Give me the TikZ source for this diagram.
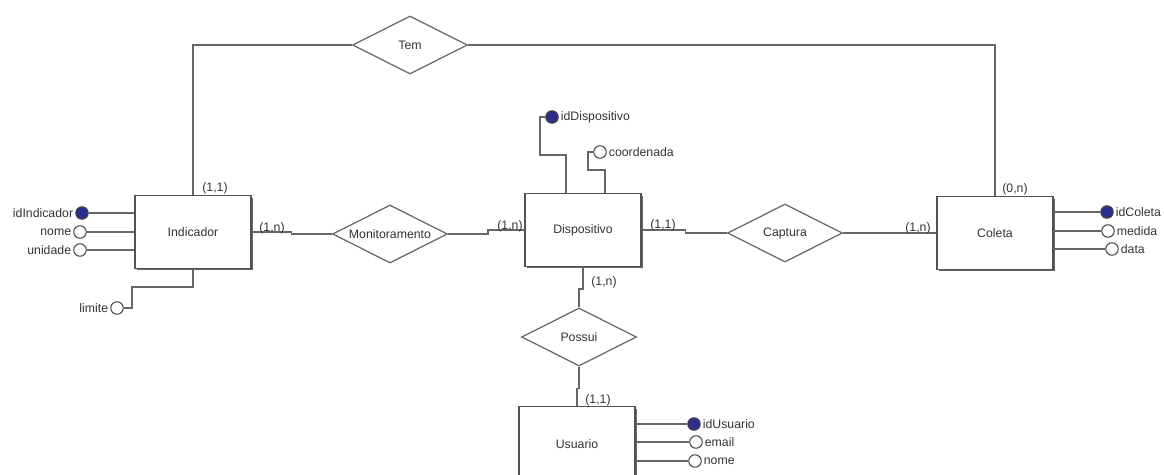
\documentclass[tikz,border=0pt]{standalone}
\usepackage{fontspec}
\setmainfont{Liberation Sans}
\usetikzlibrary{shapes.geometric,shadows}

\definecolor{linha}{HTML}{666666}
\definecolor{chave}{HTML}{2B2E8C}
\definecolor{texto}{HTML}{333333}

\tikzset{
  entidade/.style={draw=linha!80!black, fill=white, line width=0.8pt,
    minimum width=2.32cm, minimum height=1.46cm, inner sep=0pt,
    font=\fontsize{7}{8}\selectfont, text=texto,
    drop shadow={shadow xshift=0.04cm, shadow yshift=-0.04cm, fill=linha, opacity=1}},
  relacao/.style={draw=linha, fill=white, shape=diamond, aspect=2, inner sep=0pt,
    line width=0.7pt, minimum width=2.3cm, minimum height=1.16cm,
    font=\fontsize{7}{8}\selectfont, text=texto},
  atributo/.style={circle, draw=linha!70!black, fill=white, line width=0.6pt,
    minimum size=0.25cm, inner sep=0pt},
  chaveatr/.style={atributo, fill=chave},
  rot/.style={font=\fontsize{7}{8}\selectfont, text=texto, inner sep=1pt},
  card/.style={font=\fontsize{7}{8}\selectfont, text=texto, inner sep=1pt},
  lig/.style={draw=linha, line width=0.8pt},
  ligatr/.style={draw=linha, line width=1.3pt},
}

\begin{document}
\begin{tikzpicture}[x=0.02cm, y=-0.02cm]
    \useasboundingbox (0,0) rectangle (1164,474);
    \clip (0,0) rectangle (1164,474);

    % ---- Entidades ----
    \node[entidade] (ind) at (193,232) {Indicador};
    \node[entidade] (disp) at (583,230) {Dispositivo};
    \node[entidade] (col) at (995,233) {Coleta};
    \node[entidade, minimum height=1.5cm] (usu) at (577,444) {Usuario};

    % ---- Relacionamentos ----
    \node[relacao] (tem) at (410,45) {Tem};
    \node[relacao] (mon) at (390,234) {Monitoramento};
    \node[relacao] (cap) at (785,233) {Captura};
    \node[relacao] (pos) at (579,337) {Possui};

    % ---- Ligacoes entre entidades ----
    \draw[lig] (ind.north) |- (tem.west);
    \draw[lig] (col.north) |- (tem.east);
    \draw[lig] (ind.east) -- ++(40,0) |- (mon.west);
    \draw[lig] (mon.east) -- ++(40,0) |- (disp.west);
    \draw[lig] (disp.east) -- ++(44,0) |- (cap.west);
    \draw[lig] (cap.east) -- (col.west);
    \draw[lig] (disp.south) -- ++(0,22) -| (pos.north);
    \draw[lig] (pos.south) -- ++(0,22) -| (usu.north);

    % Cardinalidades
    \node[card] (cIndTem) at (215,188) {(1,1)};
    \node[card] (cIndMon) at (272,228) {(1,n)};
    \node[card] (cDispMon) at (510,226) {(1,n)};
    \node[card] (cDispCap) at (663,225) {(1,1)};
    \node[card] (cColCap) at (918,228) {(1,n)};
    \node[card] (cColTem) at (1015,189) {(0,n)};
    \node[card] (cDispPos) at (604,282) {(1,n)};
    \node[card] (cUsuPos) at (598,400) {(1,1)};

    % ---- Atributos de Indicador ----
    \node[chaveatr, label={[rot]left:idIndicador}] (aIdInd) at (82,213) {};
    \node[atributo, label={[rot]left:nome}] (aNomeInd) at (80,232) {};
    \node[atributo, label={[rot]left:unidade}] (aUnid) at (80,250) {};
    \node[atributo, label={[rot]left:limite}] (aLim) at (117,308) {};
    \draw[ligatr] (aIdInd.east) -- (aIdInd -| ind.west);
    \draw[ligatr] (aNomeInd.east) -- (aNomeInd -| ind.west);
    \draw[ligatr] (aUnid.east) -- (aUnid -| ind.west);
    \draw[lig] (aLim.east) -| (132,287) -| (ind.south);

    % ---- Atributos de Dispositivo ----
    \node[chaveatr, label={[rot]right:idDispositivo}] (aIdDisp) at (552,117) {};
    \node[atributo, label={[rot]right:coordenada}] (aCoord) at (600,152) {};
    \draw[lig] (aIdDisp.west) -| (540,155) -| (566,0 |- disp.north);
    \draw[lig] (aCoord.west) -| (588,170) -| (605,0 |- disp.north);

    % ---- Atributos de Coleta ----
    \node[chaveatr, label={[rot]right:idColeta}] (aIdCol) at (1107,212) {};
    \node[atributo, label={[rot]right:medida}] (aMed) at (1108,231) {};
    \node[atributo, label={[rot]right:data}] (aData) at (1112,249) {};
    \draw[ligatr] (col.east |- aIdCol) -- (aIdCol.west);
    \draw[ligatr] (col.east |- aMed) -- (aMed.west);
    \draw[ligatr] (col.east |- aData) -- (aData.west);

    % ---- Atributos de Usuario ----
    \node[chaveatr, label={[rot]right:idUsuario}] (aIdUsu) at (694,424) {};
    \node[atributo, label={[rot]right:email}] (aEmail) at (696,442) {};
    \node[atributo, label={[rot]right:nome}] (aNomeUsu) at (695,461) {};
    \draw[ligatr] (usu.east |- aIdUsu) -- (aIdUsu.west);
    \draw[ligatr] (usu.east |- aEmail) -- (aEmail.west);
    \draw[ligatr] (usu.east |- aNomeUsu) -- (aNomeUsu.west);
\end{tikzpicture}
\end{document}
